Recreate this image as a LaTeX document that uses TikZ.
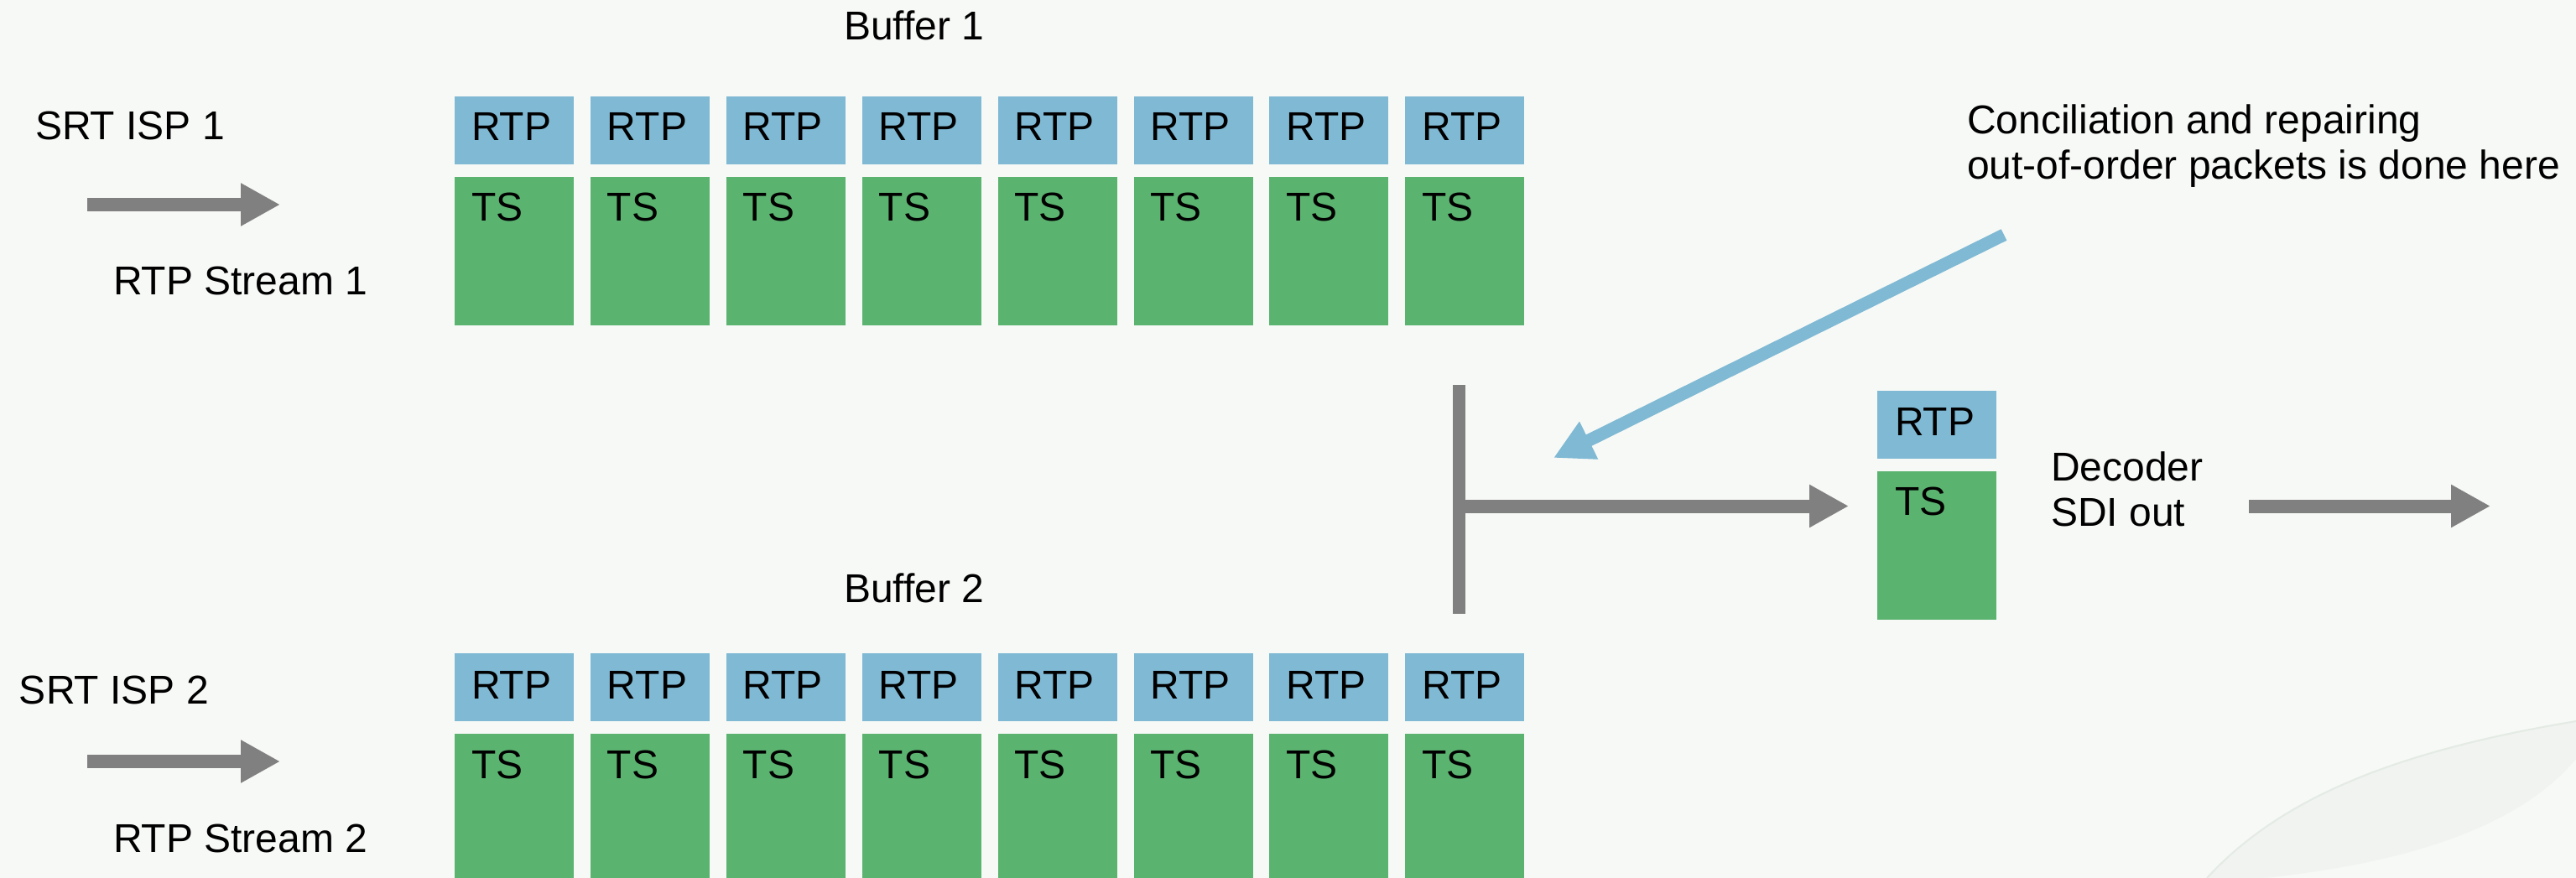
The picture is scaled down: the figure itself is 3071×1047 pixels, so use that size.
\documentclass[tikz,border=0pt]{standalone}
\usepackage{fontspec}
\setmainfont{Liberation Sans}
\usetikzlibrary{arrows.meta}
\definecolor{bg}{HTML}{F7F9F6}
\definecolor{rtpblue}{HTML}{7FB9D4}
\definecolor{tsgreen}{HTML}{5BB370}
\definecolor{arrgray}{HTML}{808080}
\definecolor{swoosh}{HTML}{F0F3F0}
\definecolor{swooshedge}{HTML}{E4EAE4}
\begin{document}
\begin{tikzpicture}[x=0.5pt,y=-0.5pt,
  rtpbox/.style={fill=rtpblue, draw=none, minimum width=71pt, minimum height=40.5pt, inner sep=0pt, outer sep=0pt, anchor=north west},
  tsbox/.style={fill=tsgreen, draw=none, minimum width=71pt, minimum height=88.5pt, inner sep=0pt, outer sep=0pt, anchor=north west},
  lbl/.style={anchor=base west, inner sep=0pt, outer sep=0pt, font=\fontsize{24}{26.5}\selectfont},
  mlbl/.style={anchor=north west, inner sep=0pt, outer sep=0pt, align=left, font=\fontsize{24}{27}\selectfont},
  fatgray/.style={draw=arrgray, line width=8pt, -{Triangle[length=23.5pt,width=24pt]}},
  fatblue/.style={draw=rtpblue, line width=7.5pt, -{Triangle[length=23.5pt,width=23.5pt]}},
  barstyle/.style={fill=arrgray, draw=none, minimum width=7.5pt, minimum height=136.5pt, inner sep=0pt, outer sep=0pt, anchor=north west}
]
\useasboundingbox (0,0) rectangle (3071,1047);
\clip (0,0) rectangle (3071,1047);
\fill[bg] (0,0) rectangle (3071,1047);
% faint background swoosh
\fill[swoosh] (2631,1047) .. controls (2720,950) and (2860,895) .. (3071,860) -- (3071,905) .. controls (3000,990) and (2860,1030) .. (2700,1047) -- cycle;
\draw[swooshedge, line width=1pt] (2631,1047) .. controls (2720,950) and (2860,895) .. (3071,860);

% buffer labels
\node[lbl] (buf1) at (1006,48) {Buffer 1};
\node[lbl] (buf2) at (1006,718) {Buffer 2};

% input labels
\node[lbl] (isp1) at (42,167) {SRT ISP 1};
\node[lbl] (str1) at (135,352) {RTP Stream 1};
\node[lbl] (isp2) at (23,839) {SRT ISP 2};
\node[lbl] (str2) at (135,1016) {RTP Stream 2};

% input arrows
\coordinate (in1s) at (104,244);
\coordinate (in1e) at (334,244);
\coordinate (in2s) at (104,908);
\coordinate (in2e) at (334,908);
\draw[fatgray] (in1s) -- (in1e);
\draw[fatgray] (in2s) -- (in2e);

% buffers
\foreach \i [evaluate=\i as \xx using {542+161.9*(\i-1)}] in {1,...,8} {
  \node[rtpbox] (ar\i) at (\xx,115) {};
  \node[lbl] (art\i) at ([shift={(20,53)}]ar\i.north west) {RTP};
  \node[tsbox] (at\i) at (\xx,211) {};
  \node[lbl] (att\i) at ([shift={(20,53)}]at\i.north west) {TS};
  \node[rtpbox] (br\i) at (\xx,779) {};
  \node[lbl] (brt\i) at ([shift={(20,54)}]br\i.north west) {RTP};
  \node[tsbox] (bt\i) at (\xx,875) {};
  \node[lbl] (btt\i) at ([shift={(20,53)}]bt\i.north west) {TS};
}

% merge bar and arrow
\node[barstyle] (bar) at (1732,459) {};
\node[rtpbox] (dr) at (2238,466) {};
\node[lbl] (drt) at ([shift={(21,54)}]dr.north west) {RTP};
\node[tsbox] (dt) at (2238,562) {};
\node[lbl] (dtt) at ([shift={(21,52)}]dt.north west) {TS};
\coordinate (mA) at (bar.east |- 0,603.5);
\coordinate (mB) at (2204,603.5);
\draw[fatgray] ([xshift=-2pt]mA) -- (mB);

% decoder text and output arrow
\node[mlbl] (dec) at (2445,539) {Decoder\\SDI out};
\coordinate (outs) at (2681,603.5);
\coordinate (oute) at (2969,603.5);
\draw[fatgray] (outs) -- (oute);

% note and blue arrow
\node[mlbl] (note) at (2345,125) {Conciliation and repairing\\out-of-order packets is done here};
\coordinate (nA) at (2389,280);
\coordinate (nB) at (1852,546);
\draw[fatblue] (nA) -- (nB);
\end{tikzpicture}
\end{document}
